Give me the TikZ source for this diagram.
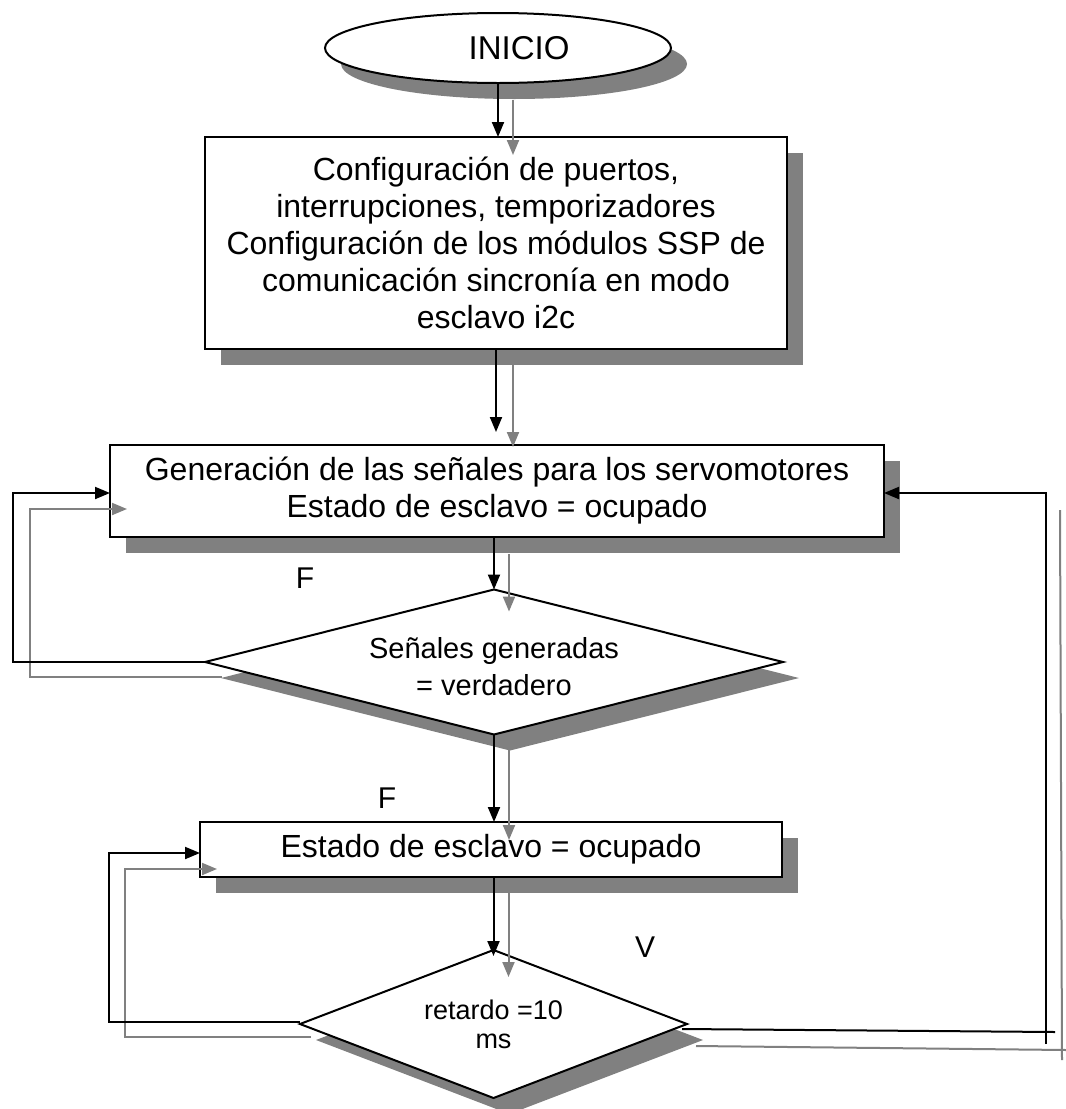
\documentclass[tikz,border=0pt]{standalone}
\usepackage{fontspec}
\setmainfont{Liberation Sans}
\usetikzlibrary{arrows.meta,shapes.geometric,shadows}
\definecolor{shadowgray}{HTML}{808080}
\begin{document}
\begin{tikzpicture}[x=1pt,y=-1pt,
  shape drop/.style={drop shadow={shadow xshift=16pt,shadow yshift=-16pt,fill=shadowgray,opacity=1}},
  boxstyle/.style={rectangle,draw=black,fill=white,line width=2pt,inner sep=0pt,outer sep=0pt,align=center,shape drop},
  decstyle/.style={diamond,draw=black,fill=white,line width=2pt,inner sep=0pt,outer sep=0pt,align=center,shape drop},
  bigtext/.style={font=\fontsize{32}{37}\selectfont},
  midtext/.style={font=\fontsize{29}{37}\selectfont},
  smalltext/.style={font=\fontsize{27}{29}\selectfont},
  conn/.style={line width=2pt,draw=black,-{Triangle[length=15pt,width=12pt]}},
  sconn/.style={line width=2pt,draw=shadowgray,-{Triangle[length=15pt,width=12pt,fill=shadowgray]}},
  line/.style={line width=2pt,draw=black},
  sline/.style={line width=2pt,draw=shadowgray},
  lbl/.style={font=\fontsize{30}{32}\selectfont,inner sep=0pt}]
\useasboundingbox (0,0) rectangle (1066,1109);

% shapes
\node[ellipse,draw=black,fill=white,line width=2pt,inner sep=0pt,outer sep=0pt,
      minimum width=346pt,minimum height=70pt,shape drop] (inicio) at (498,48) {};
\node[font=\fontsize{33}{37}\selectfont,inner sep=0pt] (iniciotext) at (519,48) {INICIO};
\node[boxstyle,bigtext,minimum width=582pt,minimum height=212pt] (box1) at (496,243)
  {Configuración de puertos,\\interrupciones, temporizadores\\Configuración de los módulos SSP de\\comunicación sincronía en modo\\esclavo i2c};
\node[boxstyle,bigtext,minimum width=774pt,minimum height=92pt] (box2) at (497,491)
  {Generación de las señales para los servomotores\\Estado de esclavo = ocupado};
\node[decstyle,shape aspect=4,minimum width=578pt,minimum height=145pt] (d1) at (494,662) {};
\node[midtext,align=center,inner sep=0pt] (d1text) at (494,667) {Señales generadas\\= verdadero};
\node[boxstyle,bigtext,minimum width=582pt,minimum height=55pt] (box3) at (491,849.5)
  {Estado de esclavo = ocupado};
\node[decstyle,smalltext,shape aspect=2.6,minimum width=387pt,minimum height=148pt] (d2) at (493.5,1024)
  {retardo =10\\ms};

% labels
\node[lbl] (f1) at (305,578) {F};
\node[lbl] (f2) at (387,798) {F};
\node[lbl] (v1) at (645,947) {V};

% loop corner coordinates
\coordinate (L1) at (13,493);
\coordinate (L2) at (109,853);
\coordinate (R1) at (1046,493);
\coordinate (R1b) at (1046,1044);
\coordinate (R1e) at (1055,1032);
% shadow path coordinates
\coordinate (S1a) at (222,677);
\coordinate (S1b) at (30,677);
\coordinate (S1c) at (30,509);
\coordinate (S1d) at (127,509);
\coordinate (S2a) at (311,1037);
\coordinate (S2b) at (125,1037);
\coordinate (S2c) at (125,869);
\coordinate (S2d) at (217,869);
\coordinate (S3a) at (696,1046);
\coordinate (S3b) at (1066,1050);
\coordinate (S4a) at (1060,510);
\coordinate (S4b) at (1062,1060);

% shadow connectors (gray)
\draw[sconn] ([xshift=15pt,yshift=-17pt]inicio.south) -- ([xshift=15pt,yshift=-18pt]inicio.south |- box1.north);
\draw[sconn] ([xshift=17pt,yshift=-16pt]box1.south) -- ([xshift=17pt,yshift=-2pt]box1.south |- box2.north);
\draw[sconn] ([xshift=15pt,yshift=-17pt]d1.north |- box2.south) -- ([xshift=15pt,yshift=-22pt]d1.north);
\draw[sconn] ([xshift=15pt,yshift=-15pt]d1.south) -- ([xshift=15pt,yshift=-18pt]d1.south |- box3.north);
\draw[sconn] ([xshift=15pt,yshift=-15pt]d2.north |- box3.south) -- ([xshift=15pt,yshift=-27pt]d2.north);
\draw[sconn] (S1a) -- (S1b) -- (S1c) -- (S1d);
\draw[sconn] (S2a) -- (S2b) -- (S2c) -- (S2d);
\draw[sline] (S3a) -- (S3b);
\draw[sline] (S4a) -- (S4b);

% main connectors (black)
\draw[conn] (inicio.south) -- (inicio.south |- box1.north);
\draw[conn] (box1.south) -- ([yshift=13pt]box1.south |- box2.north);
\draw[conn] (d1.north |- box2.south) -- (d1.north);
\draw[conn] (d1.south) -- (d1.south |- box3.north);
\draw[conn] (d2.north |- box3.south) -- ([yshift=-6pt]d2.north);
\draw[conn] (d1.west) -- (d1.west -| L1) -- (L1) -- (L1 -| box2.west);
\draw[conn] ([yshift=2pt]d2.west) -- ([yshift=2pt]d2.west -| L2) -- (L2) -- (L2 -| box3.west);
\draw[line] ([xshift=-5pt,yshift=-5pt]d2.east) -- (R1e);
\draw[conn] (R1b) -- (R1) -- (R1 -| box2.east);
\end{tikzpicture}
\end{document}
